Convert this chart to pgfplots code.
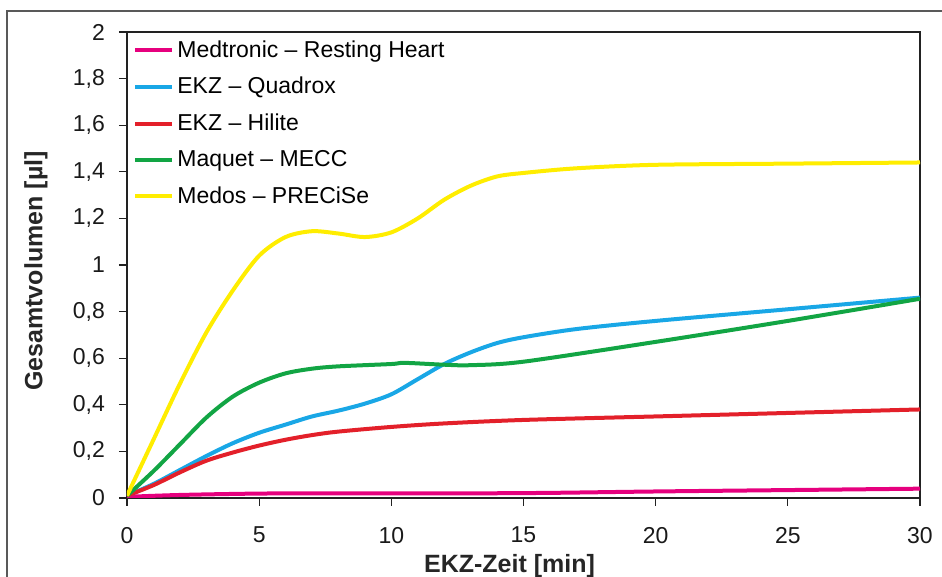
\documentclass[border=0pt]{standalone}
\usepackage{fontspec}
\setmainfont{Liberation Sans}
\usepackage{pgfplots}
\pgfplotsset{compat=1.18}

\definecolor{cMag}{HTML}{E6007E}
\definecolor{cBlue}{HTML}{19A7E6}
\definecolor{cRed}{HTML}{E3202A}
\definecolor{cGreen}{HTML}{12A544}
\definecolor{cYel}{HTML}{FFED00}
\definecolor{cAxis}{HTML}{222222}

\begin{document}
\begin{tikzpicture}
  \begin{axis}[
    name=ax,
    at={(0,0)}, anchor=south west,
    scale only axis,
    width=396.5pt, height=233pt,
    xmin=0, xmax=30, ymin=0, ymax=2,
    xtick={0,5,...,30},
    ytick={0,0.2,...,2},
    tick pos=left,
    tick align=outside,
    major tick length=4pt,
    axis line style={cAxis, line width=0.6pt},
    every tick/.style={cAxis, line width=0.6pt},
    /pgf/number format/assume math mode=true,
    /pgf/number format/use comma,
    /pgf/number format/fixed,
    tick label style={font=\fontsize{11.5}{13}\selectfont, text=black!90},
    xticklabel style={yshift=-7pt},
    yticklabel style={xshift=-3.5pt},
    xlabel={EKZ-Zeit [min]},
    ylabel={Gesamtvolumen [µl]},
    label style={font=\bfseries\fontsize{12.5}{15}\selectfont, text=black!85},
    xlabel style={at={(axis description cs:0.5,0)}, anchor=center, yshift=-34pt, xshift=-7pt},
    ylabel style={at={(axis description cs:0,0.5)}, anchor=center, yshift=45.5pt, xshift=-3pt},
    legend cell align=left,
    legend image code/.code={\draw[#1] (0pt,0pt) -- (18.5pt,0pt);},
    legend style={at={(0,1)}, anchor=north west, xshift=0pt, yshift=0pt,
      draw=none, fill=none, row sep=4.5pt,
      nodes={inner xsep=1.5pt},
      font=\fontsize{11.5}{13}\selectfont},
    every axis plot/.append style={line width=2pt, smooth},
  ]
    \addplot[cMag] coordinates {
      (0,0.005) (2,0.013) (5,0.019) (8,0.02) (13,0.02) (16,0.022)
      (20,0.028) (25,0.034) (30,0.04)
    };
    \addlegendentry{Medtronic – Resting Heart}
    \addplot[cBlue] coordinates {
      (0,0.01) (1,0.06) (2,0.12) (3,0.18) (4,0.235) (5,0.28) (6,0.315)
      (7,0.35) (8,0.375) (9,0.405) (10,0.445) (11,0.51) (12,0.575)
      (13,0.625) (14,0.665) (15,0.69) (17,0.725) (20,0.76) (25,0.81) (30,0.86)
    };
    \addlegendentry{EKZ – Quadrox}
    \addplot[cRed] coordinates {
      (0,0.01) (1,0.055) (2,0.11) (3,0.16) (4,0.195) (5,0.225) (6,0.25)
      (7,0.27) (8,0.285) (10,0.305) (12,0.32) (15,0.335) (20,0.35)
      (25,0.365) (30,0.38)
    };
    \addlegendentry{EKZ – Hilite}
    \addplot[cGreen] coordinates {
      (0,0.01) (1,0.115) (2,0.23) (3,0.345) (4,0.435) (5,0.495) (6,0.535)
      (7,0.555) (8,0.565) (10,0.575) (10.5,0.58) (12,0.572) (13,0.57)
      (15,0.585) (20,0.67) (25,0.76) (30,0.855)
    };
    \addlegendentry{Maquet – MECC}
    \addplot[cYel] coordinates {
      (0,0.01) (1,0.25) (2,0.49) (3,0.71) (4,0.89) (5,1.04) (6,1.12)
      (7,1.145) (8,1.135) (9,1.12) (10,1.14) (11,1.2) (12,1.28) (13,1.34)
      (14,1.38) (15,1.395) (17,1.415) (20,1.43) (25,1.435) (30,1.44)
    };
    \addlegendentry{Medos – PRECiSe}
  \end{axis}
  \draw[black!65, line width=0.6pt] (-60pt,-60pt) -- (-60pt,243.5pt) -- (430pt,243.5pt);
  \pgfresetboundingbox
  \path[use as bounding box] (-63.5pt,-39.5pt) rectangle (407.5pt,249pt);
\end{tikzpicture}
\end{document}
